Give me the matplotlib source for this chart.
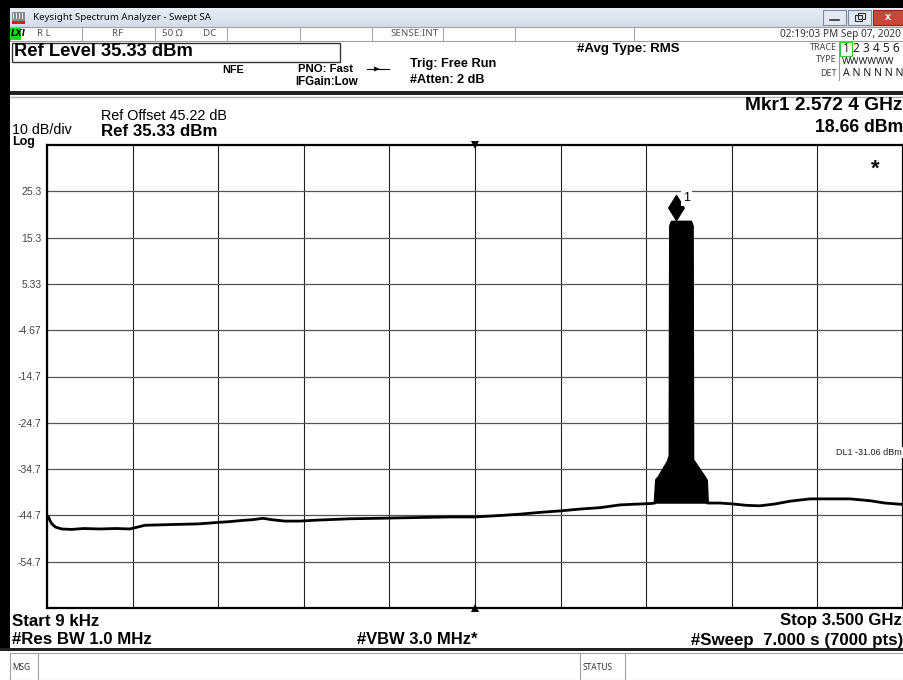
import numpy as np
import matplotlib
matplotlib.use("Agg")
import matplotlib.pyplot as plt
from matplotlib.patches import Rectangle, Polygon
from matplotlib.path import Path

# ---------------- data ----------------
start_ghz = 0.0
stop_ghz = 3.5
ref_level_dbm = 35.33
bottom_level_dbm = -64.67
x_grid_ghz = [0.0, 0.35, 0.7, 1.05, 1.4, 1.75, 2.1, 2.45, 2.8, 3.15, 3.5]
ytick_values = [25.33, 15.33, 5.33, -4.67, -14.67, -24.67, -34.67, -44.67, -54.67]
ytick_labels = ["25.3", "15.3", "5.33", "-4.67", "-14.7", "-24.7", "-34.7", "-44.7", "-54.7"]

floor_left_ghz = [0.000, 0.004, 0.008, 0.012, 0.020, 0.035, 0.060, 0.100, 0.150, 0.217,
                  0.280, 0.339, 0.370, 0.401, 0.470, 0.544, 0.620, 0.695, 0.750, 0.789,
                  0.840, 0.883, 0.920, 0.973, 1.034, 1.100, 1.239, 1.350, 1.444, 1.550,
                  1.650, 1.750, 1.850, 1.934, 2.020, 2.098, 2.180, 2.261, 2.343, 2.425,
                  2.470]
floor_left_dbm = [-45.3, -44.9, -45.2, -45.8, -46.5, -47.2, -47.6, -47.7, -47.5, -47.6,
                  -47.5, -47.6, -47.2, -46.8, -46.7, -46.6, -46.5, -46.2, -46.0, -45.8,
                  -45.6, -45.3, -45.6, -45.9, -45.9, -45.7, -45.4, -45.3, -45.2, -45.1,
                  -45.0, -45.0, -44.7, -44.4, -44.0, -43.7, -43.3, -43.0, -42.4, -42.2,
                  -42.1]
signal_ghz = [2.486, 2.492, 2.502, 2.539, 2.547, 2.549, 2.555, 2.633, 2.639, 2.641,
              2.650, 2.691, 2.697, 2.701]
signal_dbm = [-42.0, -37.0, -36.4, -33.1, -31.8, 17.8, 18.7, 18.7, 17.8, -32.7,
              -33.4, -36.6, -37.2, -42.0]
floor_right_ghz = [2.751, 2.805, 2.860, 2.915, 2.977, 3.038, 3.120, 3.202, 3.283, 3.365,
                   3.426, 3.500]
floor_right_dbm = [-42.0, -42.2, -42.5, -42.6, -42.2, -41.6, -41.1, -41.1, -41.1, -41.5,
                   -42.0, -42.3]
marker_ghz = 2.5724
marker_dbm = 18.66
display_line_dbm = -31.06

# ---------------- figure ----------------
W, H = 904, 680
fig = plt.figure(figsize=(W / 100, H / 100), dpi=100)
bg = fig.add_axes([0, 0, 1, 1])
bg.set_xlim(0, W)
bg.set_ylim(H, 0)
bg.axis("off")

F = "Liberation Sans"
TF = "Noto Sans"

def rect(x0, y0, x1, y1, fc, ec="none", lw=0, z=1):
    bg.add_patch(Rectangle((x0, y0), x1 - x0, y1 - y0, facecolor=fc, edgecolor=ec, linewidth=lw, zorder=z))

def txt(x, y, s, size=9, weight="normal", ha="left", color="black", family=F, z=5, **kw):
    bg.text(x, y, s, fontsize=size, fontweight=weight, ha=ha, va="center", color=color,
            family=family, zorder=z, **kw)

# window chrome
rect(0, 0, W, H, "white", z=0)
rect(0, 0, W, 8, "black")
grad = np.linspace(0, 1, 20).reshape(-1, 1)
bg.imshow(grad, extent=[10, W, 27, 8], aspect="auto", cmap=matplotlib.colors.LinearSegmentedColormap.from_list(
    "tb", ["#e6edf6", "#d3deea"]), zorder=1)
rect(0, 0, 10, 648, "black", z=2)
# app icon
rect(12, 12, 25, 22, "#8a8a8a", z=3)
rect(12, 21, 25, 24, "#d32020", z=3)
for xi in range(13, 25, 3):
    bg.plot([xi, xi], [13, 18], color="white", lw=0.6, zorder=4)
txt(33, 17, "Keysight Spectrum Analyzer - Swept SA", size=7, family=TF, color="#111111")
# window buttons
rect(823, 10, 846, 25, "#e2e9f2", ec="#7b8ba0", lw=0.8, z=3)
bg.plot([830, 839], [20, 20], color="#333", lw=1.2, zorder=4)
rect(848, 10, 871, 25, "#e2e9f2", ec="#7b8ba0", lw=0.8, z=3)
rect(855, 15, 862, 21, "none", ec="#333", lw=0.8, z=4)
rect(858, 13, 865, 19, "none", ec="#333", lw=0.8, z=4)
rect(873, 10, 904, 25, "#c8473a", ec="#8a2a20", lw=0.8, z=3)
txt(888, 17, "x", size=8, weight="bold", ha="center", color="white")

# status row
rect(10, 27, W, 41, "white", ec="#a0a0a0", lw=0.8, z=2)
for xs in [82, 155, 227, 300, 372, 443, 515, 634]:
    bg.plot([xs, xs], [27, 41], color="#a8a8a8", lw=0.8, zorder=3)
rect(10, 28, 21, 40, "#14d914", z=3)
txt(11, 34, "LXI", size=6, weight="bold", style="italic", family="DejaVu Sans")
sc = "#555555"
txt(37, 34, "R L", size=7, color=sc, family=TF)
txt(118, 34, "RF", size=7, color=sc, ha="center", family=TF)
txt(162, 34, "50 Ω", size=7, color=sc, family=TF)
txt(203, 34, "DC", size=7, color=sc, family=TF)
txt(390, 34, "SENSE:INT", size=7, color=sc, family=TF)
txt(901, 34, "02:19:03 PM Sep 07, 2020", size=7.3, color="#333", ha="right", family=TF)

# header
rect(12, 43, 340, 62, "white", ec="#333", lw=1.0, z=2)
txt(14, 52, "Ref Level 35.33 dBm", size=13.2, weight="bold")
txt(222, 70, "NFE", size=7.8, weight="bold")
txt(298, 69, "PNO: Fast", size=8.2, weight="bold")
txt(295, 82, "IFGain:Low", size=8.3, weight="bold")
bg.plot([367, 389], [69, 69], color="black", lw=0.8, zorder=3)
bg.add_patch(Polygon([[374, 66.5], [380, 69], [374, 71.5]], closed=True, fc="black", zorder=3))
txt(410, 64, "Trig: Free Run", size=9.2, weight="bold")
txt(410, 80, "#Atten: 2 dB", size=9.1, weight="bold")
txt(577, 49, "#Avg Type: RMS", size=9.5, weight="bold")
txt(837, 48, "TRACE", size=6.5, color="#444", ha="right", family=TF)
txt(837, 60, "TYPE", size=6.5, color="#444", ha="right", family=TF)
txt(837, 73, "DET", size=6.5, color="#444", ha="right", family=TF)
bg.plot([839, 839], [42, 80], color="#999", lw=0.8, zorder=3)
rect(840, 42, 852, 56, "white", ec="#33cc33", lw=0.8, z=3)
txt(843, 49, "1 2 3 4 5 6", size=8.6, family=TF, color="#222")
txt(842, 61, "WWWWWW", size=6.8, family=TF, color="#222")
txt(843, 73, "A N N N N N", size=7.6, family=TF, color="#222")
rect(10, 91, W, 95, "#222222", z=2)
bg.plot([10, W], [97, 97], color="#b0b0b0", lw=1.0, zorder=2)

# data panel labels
txt(12, 130, "10 dB/div", size=10.3)
txt(12, 142, "Log", size=9, weight="bold")
txt(101, 116, "Ref Offset 45.22 dB", size=10.4)
txt(101, 131, "Ref 35.33 dBm", size=12.2, weight="bold")
txt(903, 106, "Mkr1 2.572 4 GHz", size=13.8, weight="bold", ha="right")
txt(903, 127, "18.66 dBm", size=12.7, weight="bold", ha="right")

# bottom annotations
txt(12, 621, "Start 9 kHz", size=12.2, weight="bold")
txt(902, 621, "Stop 3.500 GHz", size=12.1, weight="bold", ha="right")
txt(12, 640, "#Res BW 1.0 MHz", size=12.1, weight="bold")
txt(357, 640, "#VBW 3.0 MHz*", size=11.9, weight="bold")
txt(903, 640, "#Sweep  7.000 s (7000 pts)", size=12.2, weight="bold", ha="right")
rect(0, 648, W, 651, "#222222", z=2)
# message row
rect(10, 653, W, 680, "white", ec="#a0a0a0", lw=0.8, z=2)
bg.plot([38, 38], [653, 680], color="#a0a0a0", lw=0.8, zorder=3)
bg.plot([580, 580], [653, 680], color="#a0a0a0", lw=0.8, zorder=3)
bg.plot([625, 625], [653, 680], color="#a0a0a0", lw=0.8, zorder=3)
txt(12, 668, "MSG", size=6, color="#333", family=TF)
txt(583, 668, "STATUS", size=6, color="#333", family=TF)

# ---------------- spectrum axes ----------------
x0, x1, y0, y1 = 47, 903, 145, 608
ax = fig.add_axes([x0 / W, 1 - y1 / H, (x1 - x0) / W, (y1 - y0) / H], zorder=5)
ax.set_xlim(start_ghz, stop_ghz)
ax.set_ylim(bottom_level_dbm, ref_level_dbm)
ax.set_facecolor("white")
ax.set_xticks(x_grid_ghz)
ax.set_xticklabels([])
ax.set_yticks(ytick_values)
ax.set_yticklabels(ytick_labels, fontsize=7.5, color="#444444", family=F)
ax.tick_params(length=0, pad=4)
ax.grid(True, axis="x", color="#222222", lw=0.8)
ax.grid(True, axis="y", color="#555555", lw=0.9)
for s in ax.spines.values():
    s.set_linewidth(1.6)
    s.set_color("black")

trace_x = floor_left_ghz + signal_ghz + floor_right_ghz
trace_y = floor_left_dbm + signal_dbm + floor_right_dbm
ax.plot(trace_x, trace_y, color="black", lw=2.0, zorder=4, solid_joinstyle="round")
ax.fill(signal_ghz, signal_dbm, color="black", zorder=4)

# marker diamond (tip at marker point)
dpath = Path([(0, 0), (-0.62, 1.0), (0, 2.0), (0.62, 1.0), (0, 0)],
             [Path.MOVETO, Path.LINETO, Path.LINETO, Path.LINETO, Path.CLOSEPOLY])
ax.plot([marker_ghz], [marker_dbm + 0.4], marker=dpath, ms=36, color="black", zorder=6, clip_on=False)
ax.annotate("1", (marker_ghz, marker_dbm), xytext=(7.5, 17.5), textcoords="offset points",
            fontsize=9, family=F, ha="center", va="center", zorder=7,
            bbox=dict(boxstyle="square,pad=0.15", fc="white", ec="none"))

# center triangles
ax.plot([1.75], [ref_level_dbm], marker="v", ms=6, color="black", clip_on=False, zorder=6,
        markeredgewidth=0)
ax.plot([1.75], [bottom_level_dbm], marker="^", ms=6, color="black", clip_on=False, zorder=6,
        markeredgewidth=0)

ax.text(0.968, 0.948, "*", transform=ax.transAxes, fontsize=16, fontweight="bold",
        ha="center", va="center", family=F)
ax.text(0.999, display_line_dbm, "DL1 -31.06 dBm", transform=ax.get_yaxis_transform(),
        fontsize=6.5, ha="right", va="center", color="#222222", family=F,
        bbox=dict(boxstyle="square,pad=0.1", fc="white", ec="none"))

fig.savefig("out.png", dpi=100)
